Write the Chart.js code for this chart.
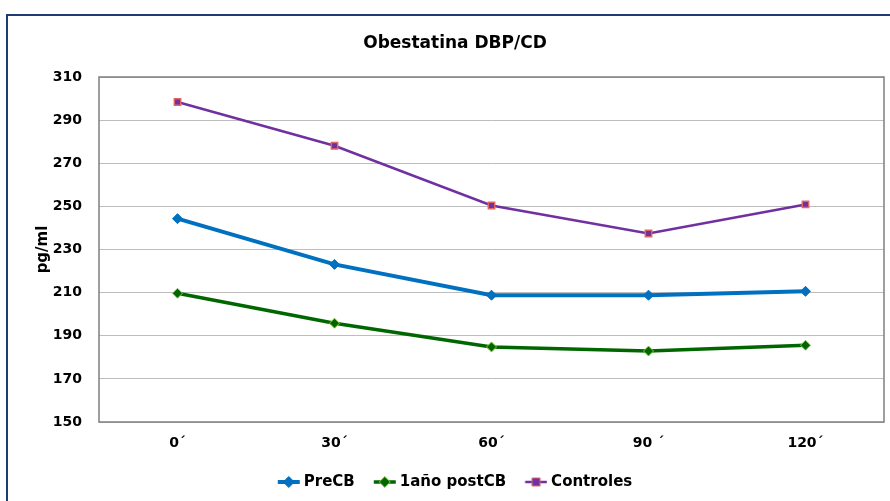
<!DOCTYPE html>
<html>
<head>
<meta charset="utf-8">
<script src="https://cdn.jsdelivr.net/npm/chart.js@4"></script>
<style>
  html, body { margin: 0; padding: 0; background: #fff; }
  #wrap { position: relative; width: 890px; height: 501px; overflow: hidden; }
  #frame { position: absolute; left: 6px; top: 14px; width: 1000px; height: 600px;
           border-left: 2px solid #1F3B73; border-top: 2px solid #1F3B73; }
  canvas { position: absolute; left: 0; top: 0; }
</style>
</head>
<body>
<div id="wrap">
  <div id="frame"></div>
  <canvas id="chart" width="890" height="501"></canvas>
</div>
<script>
// chart data
const timepoints = ["0´", "30´", "60´", "90 ´", "120´"];
const preCB = [244.3, 223.1, 208.8, 208.8, 210.6];
const postCB = [209.7, 195.8, 184.8, 182.9, 185.6];
const controles = [298.4, 278.1, 250.4, 237.4, 250.9];
const yTicks = [150, 170, 190, 210, 230, 250, 270, 290, 310];

const FONT = "'DejaVu Sans', sans-serif";

// legend icon: short line with the marker on it (26px canvas, line starts at 3.75)
function legendIcon(color, lw, shape, fill, edge) {
  const c = document.createElement("canvas");
  c.width = 26; c.height = 14;
  const g = c.getContext("2d");
  const x0 = 3.75, x1 = 25.75, mid = 14.75;
  g.strokeStyle = color;
  g.lineWidth = lw;
  g.beginPath(); g.moveTo(x0, 7); g.lineTo(x1, 7); g.stroke();
  g.fillStyle = fill;
  g.strokeStyle = edge;
  g.lineWidth = 1;
  g.beginPath();
  if (shape === "diamond") {
    g.moveTo(mid, 1.5); g.lineTo(mid + 5.5, 7); g.lineTo(mid, 12.5); g.lineTo(mid - 5.5, 7); g.closePath();
  } else {
    g.rect(mid - 4, 3, 8, 8);
  }
  g.fill(); g.stroke();
  return c;
}

const plotBorder = {
  id: "plotBorder",
  afterDatasetsDraw(chart) {
    const a = chart.chartArea, ctx = chart.ctx;
    ctx.save();
    ctx.strokeStyle = "#7f7f7f";
    ctx.lineWidth = 1.5;
    ctx.strokeRect(a.left, a.top, a.right - a.left, a.bottom - a.top);
    ctx.restore();
  }
};

const datasets = [
  {
    label: "PreCB", data: preCB,
    borderColor: "#0070C0", borderWidth: 4,
    pointStyle: "rectRot", pointRadius: 5, pointHoverRadius: 5,
    pointBackgroundColor: "#0070C0", pointBorderColor: "#0070C0", pointBorderWidth: 1,
    icon: legendIcon("#0070C0", 4, "diamond", "#0070C0", "#0070C0")
  },
  {
    label: "1año postCB", data: postCB,
    borderColor: "#006600", borderWidth: 3.5,
    pointStyle: "rectRot", pointRadius: 5, pointHoverRadius: 5,
    pointBackgroundColor: "#006600", pointBorderColor: "#8DC63F", pointBorderWidth: 1,
    icon: legendIcon("#006600", 3.5, "diamond", "#006600", "#8DC63F")
  },
  {
    label: "Controles", data: controles,
    borderColor: "#7030A0", borderWidth: 2.5,
    pointStyle: "rect", pointRadius: 4.5, pointHoverRadius: 4.5,
    pointBackgroundColor: "#7030A0", pointBorderColor: "#E06666", pointBorderWidth: 1.5,
    icon: legendIcon("#7030A0", 2.5, "square", "#7030A0", "#E06666")
  }
];

new Chart(document.getElementById("chart"), {
  type: "line",
  data: { labels: timepoints, datasets },
  plugins: [plotBorder],
  options: {
    responsive: false,
    animation: false,
    layout: { padding: { left: 25, right: 5, top: 0, bottom: 1.5 } },
    elements: { line: { tension: 0 } },
    plugins: {
      title: {
        display: true,
        text: "Obestatina DBP/CD",
        color: "#000",
        font: { family: FONT, size: 17, weight: "bold" },
        padding: { top: 33.5, bottom: 23.1 }
      },
      legend: {
        position: "bottom",
        labels: {
          color: "#000",
          font: { family: FONT, size: 15, weight: "bold" },
          usePointStyle: true,
          pointStyleWidth: 18.5,
          padding: 19,
          generateLabels(chart) {
            return chart.data.datasets.map((ds, i) => ({
              text: ds.label,
              pointStyle: ds.icon,
              fillStyle: ds.borderColor,
              strokeStyle: ds.borderColor,
              lineWidth: 0,
              hidden: false,
              datasetIndex: i,
              fontColor: "#000"
            }));
          }
        }
      },
      tooltip: { enabled: false }
    },
    scales: {
      x: {
        offset: true,
        grid: { display: false, drawTicks: false, offset: true },
        border: { display: false },
        ticks: { color: "#000", padding: 12.6, font: { family: FONT, size: 14, weight: "bold" } },
        afterFit(scale) { scale.height = 33.5; }
      },
      y: {
        min: 150, max: 310,
        grid: { color: "#bdbdbd", lineWidth: 1, drawTicks: false },
        border: { display: false },
        afterBuildTicks(scale) { scale.ticks = yTicks.map(v => ({ value: v })); },
        ticks: { color: "#000", padding: 17, font: { family: FONT, size: 14, weight: "bold" } },
        title: {
          display: true, text: "pg/ml", color: "#000",
          font: { family: FONT, size: 15, weight: "bold" },
          padding: { top: 9, bottom: 0 }
        },
        afterFit(scale) { scale.width = 74; }
      }
    }
  }
});
</script>
</body>
</html>
